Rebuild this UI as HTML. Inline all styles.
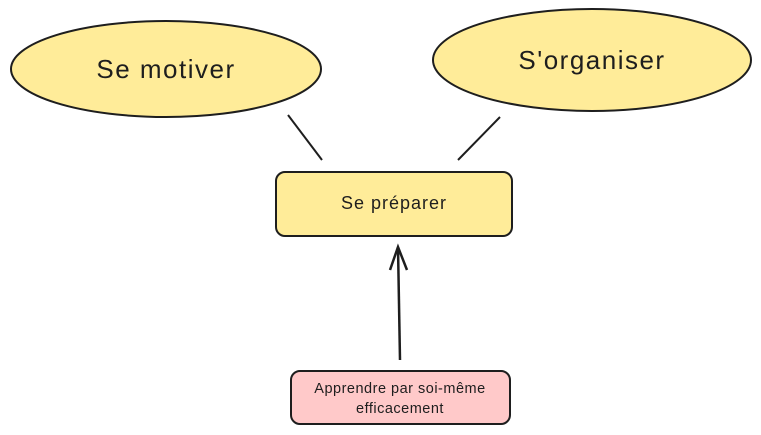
<!DOCTYPE html>
<html><head><meta charset="utf-8"><style>
html,body{margin:0;padding:0;background:#fff;width:761px;height:435px;overflow:hidden}
svg{display:block}
text{font-family:"Liberation Sans",sans-serif;fill:#1e1e1e}
</style></head><body>
<svg width="761" height="435" viewBox="0 0 761 435" xmlns="http://www.w3.org/2000/svg">
<ellipse cx="166" cy="69" rx="155" ry="48" fill="#ffec99" stroke="#1e1e1e" stroke-width="2"/>
<ellipse cx="592" cy="60" rx="159" ry="51" fill="#ffec99" stroke="#1e1e1e" stroke-width="2"/>
<text x="166" y="78" font-size="26" letter-spacing="1.5" text-anchor="middle">Se motiver</text>
<text x="592" y="69" font-size="26" letter-spacing="1.5" text-anchor="middle">S'organiser</text>
<line x1="288" y1="115" x2="322" y2="160" stroke="#1e1e1e" stroke-width="2"/>
<line x1="500" y1="117" x2="458" y2="160" stroke="#1e1e1e" stroke-width="2"/>
<rect x="276" y="172" width="236" height="64" rx="9" fill="#ffec99" stroke="#1e1e1e" stroke-width="2"/>
<text x="394" y="209" font-size="18" letter-spacing="1" text-anchor="middle">Se préparer</text>
<line x1="400" y1="360" x2="398" y2="247" stroke="#1e1e1e" stroke-width="2.5"/>
<polyline points="390,270 398,247 407,270" fill="none" stroke="#1e1e1e" stroke-width="2.5"/>
<rect x="291" y="371" width="219" height="53" rx="9" fill="#ffc9c9" stroke="#1e1e1e" stroke-width="2"/>
<text x="400" y="393" font-size="14.5" letter-spacing="0.5" text-anchor="middle">Apprendre par soi-même</text>
<text x="400" y="413" font-size="14.5" letter-spacing="0.5" text-anchor="middle">efficacement</text>
</svg>
</body></html>
